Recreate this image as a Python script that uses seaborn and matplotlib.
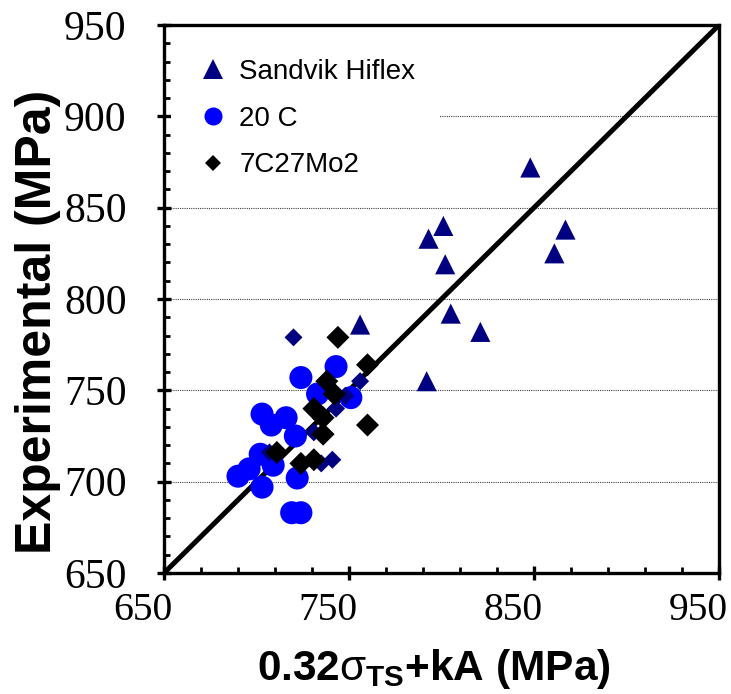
import matplotlib
matplotlib.use('Agg')
import matplotlib.pyplot as plt
from matplotlib.lines import Line2D
from matplotlib.ticker import MultipleLocator, FixedLocator
from matplotlib.transforms import ScaledTranslation
import seaborn as sns

# ---- data ----
sandvik_x = [848, 801, 793, 867, 861, 802, 805, 821, 792, 756]
sandvik_y = [872, 840, 833, 838, 825, 819, 792, 782, 755, 786]

c20_x = [743, 724, 733, 751, 703, 716, 708, 721, 702, 709, 696, 690, 703, 722, 719, 724]
c20_y = [763, 757, 748, 746, 737, 735, 731, 725, 715, 709, 707, 703, 697, 702, 683, 683]

navy_d_x = [720, 756, 748, 743, 731, 707, 735, 741]
navy_d_y = [779, 755, 747, 740, 727, 716, 710, 712]

mo_x = [744, 760, 738, 742, 731, 736, 736, 760, 711, 724, 731]
mo_y = [779, 764, 755, 748, 740, 735, 726, 731, 716, 710, 712]

diag = [650, 950]
x_ticks = [650, 750, 850, 950]
y_ticks = [650, 700, 750, 800, 850, 900, 950]
series_labels = ["Sandvik Hiflex", "20 C", "7C27Mo2"]
x_title = r"0.32$\sigma_{\mathrm{TS}}$+kA (MPa)"
y_title = "Experimental (MPa)"

# ---- style ----
sns.set_theme(style="white")
plt.rcParams['font.family'] = ['Liberation Sans', 'DejaVu Sans']
plt.rcParams['text.color'] = 'black'
plt.rcParams['mathtext.fontset'] = 'custom'
plt.rcParams['mathtext.rm'] = 'Liberation Sans:bold'
plt.rcParams['mathtext.bf'] = 'Liberation Sans:bold'
plt.rcParams['mathtext.it'] = 'Liberation Sans'

fig = plt.figure(figsize=(7.31, 6.94), dpi=100)
fig.patch.set_facecolor('white')
ax = fig.add_axes([164/731, 121/694, 555/731, 548/694])

NAVY = '#000080'
BLUE = '#0000FF'

sns.lineplot(x=diag, y=diag, color='black', linewidth=3.6, ax=ax, zorder=1)
sns.scatterplot(x=sandvik_x, y=sandvik_y, marker='^', s=210, color=NAVY,
                edgecolor='none', linewidth=0, ax=ax, zorder=3)
sns.scatterplot(x=c20_x, y=c20_y, marker='o', s=275, color=BLUE,
                edgecolor='none', linewidth=0, ax=ax, zorder=3)
sns.scatterplot(x=navy_d_x, y=navy_d_y, marker='D', s=84, color=NAVY,
                edgecolor='none', linewidth=0, ax=ax, zorder=4)
sns.scatterplot(x=mo_x, y=mo_y, marker='D', s=137, color='black',
                edgecolor='none', linewidth=0, ax=ax, zorder=5)

ax.set_xlim(650, 950)
ax.set_ylim(650, 950)
ax.xaxis.set_major_locator(FixedLocator(x_ticks))
ax.xaxis.set_minor_locator(MultipleLocator(20, offset=10))
ax.yaxis.set_major_locator(FixedLocator(y_ticks))
ax.yaxis.set_minor_locator(MultipleLocator(10))

ax.yaxis.grid(True, which='major', linestyle=(0, (1, 1)), linewidth=0.8, color='#404040')
ax.xaxis.grid(False)

for sp in ax.spines.values():
    sp.set_visible(True)
    sp.set_color('black')
    sp.set_linewidth(2.4)

ax.tick_params(which='both', top=False, right=False, bottom=True, left=True, color='black')
ax.tick_params(which='major', direction='inout', length=10, width=2.4)
ax.tick_params(which='minor', direction='in', length=4.5, width=2.0)
ax.tick_params(axis='x', which='major', pad=9)
ax.tick_params(axis='y', which='major', pad=22)
for lab in ax.get_yticklabels():
    lab.set_fontfamily('Liberation Serif')
    lab.set_fontsize(30)
    lab.set_color('black')
# x tick labels sit a little to the left of their ticks in the reference
shift = ScaledTranslation(-21 / 100, 0, fig.dpi_scale_trans)
for lab in ax.get_xticklabels():
    lab.set_fontfamily('Liberation Serif')
    lab.set_fontsize(28.5)
    lab.set_color('black')
    lab.set_transform(lab.get_transform() + shift)

ax.set_xlabel(x_title, fontsize=30.5, fontweight='bold', color='black')
ax.xaxis.set_label_coords((434 - 164) / 555, (573 - 647) / 548)
ax.set_ylabel(y_title, fontsize=36, fontweight='bold', color='black')
ax.yaxis.set_label_coords((61 - 164) / 555, (573 - 322) / 548)

handles = [
    Line2D([], [], linestyle='none', marker='^', markersize=14, color=NAVY, markeredgewidth=0),
    Line2D([], [], linestyle='none', marker='o', markersize=13, color=BLUE, markeredgewidth=0),
    Line2D([], [], linestyle='none', marker='D', markersize=8, color='black', markeredgewidth=0),
]
leg = ax.legend(handles, series_labels, loc='upper left', bbox_to_anchor=(0.0126, 0.982),
                borderaxespad=0, prop={'family': 'Liberation Sans', 'size': 20},
                frameon=True, fancybox=False, framealpha=1, facecolor='white',
                edgecolor='none', borderpad=0.86, handlelength=1.3, handletextpad=0.3,
                labelspacing=0.75, labelcolor='black')
leg.set_zorder(2.2)

fig.savefig('out.png', dpi=100, facecolor='white')
